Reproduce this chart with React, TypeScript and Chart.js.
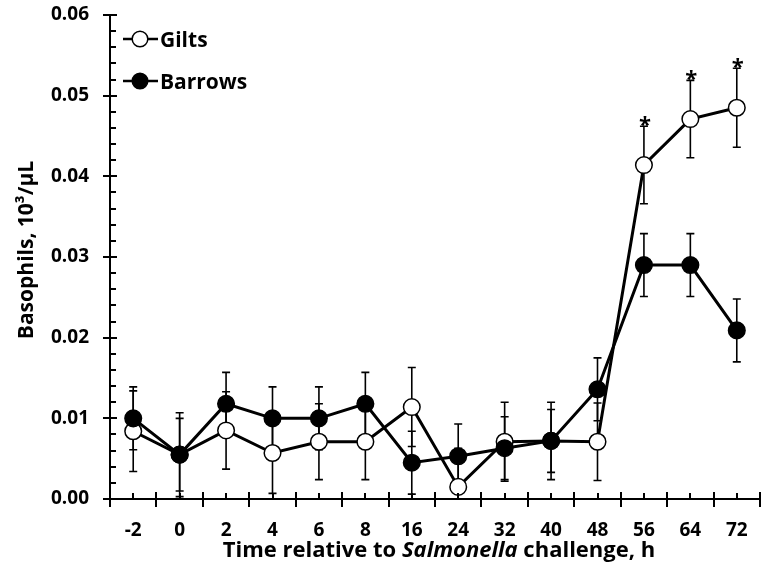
import React, { useEffect, useRef } from "react";
import { Chart, registerables } from "chart.js";
Chart.register(...registerables);

const categories = ["-2", "0", "2", "4", "6", "8", "16", "24", "32", "40", "48", "56", "64", "72"];
const giltsMean = [0.0084, 0.0055, 0.0085, 0.0057, 0.0071, 0.0071, 0.0114, 0.0015, 0.0071, 0.0072, 0.0071, 0.0414, 0.0471, 0.0485];
const giltsSE = [0.005, 0.0052, 0.0048, 0.005, 0.0047, 0.0047, 0.0049, 0.0048, 0.0049, 0.0048, 0.0048, 0.0048, 0.0048, 0.0049];
const barrowsMean = [0.01, 0.0055, 0.0118, 0.01, 0.01, 0.0118, 0.0045, 0.0053, 0.0063, 0.0072, 0.0136, 0.029, 0.029, 0.0209];
const barrowsSE = [0.0039, 0.0045, 0.0039, 0.0039, 0.0039, 0.0039, 0.0039, 0.004, 0.0039, 0.0039, 0.0039, 0.0039, 0.0039, 0.0039];
const significant = [false, false, false, false, false, false, false, false, false, false, false, true, true, true];
const yTicks = [0, 0.01, 0.02, 0.03, 0.04, 0.05, 0.06];

const FONT = "'Open Sans'";

const customPlugin = {
  id: "custom",
  beforeDatasetsDraw(chart: any) {
    const ctx = chart.ctx;
    const x = chart.scales.x;
    const y = chart.scales.y;
    ctx.save();
    ctx.strokeStyle = "#000";
    ctx.lineWidth = 1.6;
    const drawBars = (mean: number[], se: number[]) => {
      mean.forEach((m, i) => {
        const px = x.getPixelForValue(i);
        const top = y.getPixelForValue(m + se[i]);
        const bot = y.getPixelForValue(Math.max(0, m - se[i]));
        ctx.beginPath();
        ctx.moveTo(px, top);
        ctx.lineTo(px, bot);
        ctx.moveTo(px - 4, top);
        ctx.lineTo(px + 4, top);
        ctx.moveTo(px - 4, bot);
        ctx.lineTo(px + 4, bot);
        ctx.stroke();
      });
    };
    drawBars(giltsMean, giltsSE);
    drawBars(barrowsMean, barrowsSE);
    ctx.restore();
  },
  afterDraw(chart: any) {
    const ctx = chart.ctx;
    const x = chart.scales.x;
    const y = chart.scales.y;
    const area = chart.chartArea;
    ctx.save();
    ctx.strokeStyle = "#000";
    ctx.lineWidth = 2;
    // y ticks
    for (let k = 0; k <= 30; k++) {
      const v = k * 0.002;
      const py = Math.round(y.getPixelForValue(v));
      const major = k % 5 === 0;
      ctx.beginPath();
      if (major) {
        ctx.moveTo(area.left - 7, py);
        ctx.lineTo(area.left + 7, py);
      } else {
        ctx.moveTo(area.left, py);
        ctx.lineTo(area.left + 6, py);
      }
      ctx.stroke();
    }
    // x ticks
    for (let i = 0; i <= categories.length; i++) {
      const px = Math.round(x.getPixelForValue(i - 0.5));
      ctx.beginPath();
      ctx.moveTo(px, area.bottom - 7);
      ctx.lineTo(px, area.bottom + 8);
      ctx.stroke();
    }
    for (let i = 0; i < categories.length; i++) {
      const px = Math.round(x.getPixelForValue(i));
      ctx.beginPath();
      ctx.moveTo(px, area.bottom - 6);
      ctx.lineTo(px, area.bottom);
      ctx.stroke();
    }
    // asterisks
    ctx.fillStyle = "#000";
    ctx.font = `bold 22px ${FONT}`;
    ctx.textAlign = "center";
    ctx.textBaseline = "alphabetic";
    significant.forEach((s, i) => {
      if (!s) return;
      const px = x.getPixelForValue(i);
      const top = y.getPixelForValue(giltsMean[i] + giltsSE[i]);
      ctx.fillText("*", px + 1, top + 6);
    });
    // legend
    const legendRows = [
      { label: "Gilts", fill: "#fff", yy: 39 },
      { label: "Barrows", fill: "#000", yy: 81 },
    ];
    legendRows.forEach((r) => {
      ctx.lineWidth = 2.5;
      ctx.beginPath();
      ctx.moveTo(123, r.yy);
      ctx.lineTo(158, r.yy);
      ctx.stroke();
      ctx.beginPath();
      ctx.arc(140, r.yy, 7.8, 0, Math.PI * 2);
      ctx.fillStyle = r.fill;
      ctx.fill();
      ctx.lineWidth = 1.5;
      ctx.stroke();
      ctx.fillStyle = "#000";
      ctx.font = `bold 21px ${FONT}`;
      ctx.textAlign = "left";
      ctx.textBaseline = "alphabetic";
      ctx.fillText(r.label, 160, r.yy + 7.5);
    });
    // y title
    ctx.save();
    ctx.translate(33, 250);
    ctx.rotate(-Math.PI / 2);
    ctx.font = `bold 21px ${FONT}`;
    ctx.textAlign = "center";
    ctx.textBaseline = "alphabetic";
    ctx.fillText("Basophils, 10³/µL", 0, 0);
    ctx.restore();
    // x title with italic part
    const parts = [
      { t: "Time relative to ", f: `bold 22px ${FONT}` },
      { t: "Salmonella", f: `italic bold 22px ${FONT}` },
      { t: " challenge, h", f: `bold 22px ${FONT}` },
    ];
    let total = 0;
    parts.forEach((p) => {
      ctx.font = p.f;
      total += ctx.measureText(p.t).width;
    });
    let cx = 439 - total / 2;
    ctx.textAlign = "left";
    ctx.textBaseline = "alphabetic";
    parts.forEach((p) => {
      ctx.font = p.f;
      ctx.fillText(p.t, cx, 557);
      cx += ctx.measureText(p.t).width;
    });
    ctx.restore();
  },
};

export default function App() {
  const ref = useRef<HTMLCanvasElement>(null);
  useEffect(() => {
    document.body.style.margin = "0";
    const chart = new Chart(ref.current!, {
      type: "line",
      data: {
        labels: categories,
        datasets: [
          {
            label: "Barrows",
            data: barrowsMean,
            borderColor: "#000",
            borderWidth: 3,
            backgroundColor: "#000",
            pointBackgroundColor: "#000",
            pointBorderColor: "#000",
            pointBorderWidth: 1.5,
            pointRadius: 8.3,
            tension: 0,
            order: 0,
          },
          {
            label: "Gilts",
            data: giltsMean,
            borderColor: "#000",
            borderWidth: 3,
            backgroundColor: "#fff",
            pointBackgroundColor: "#fff",
            pointBorderColor: "#000",
            pointBorderWidth: 1.5,
            pointRadius: 8.3,
            tension: 0,
            order: 1,
          },
        ],
      },
      options: {
        animation: false,
        responsive: true,
        maintainAspectRatio: false,
        layout: { padding: { left: 0, right: 12, top: 15, bottom: 0 } },
        plugins: { legend: { display: false }, tooltip: { enabled: false } },
        scales: {
          x: {
            type: "category",
            offset: true,
            grid: { display: false, drawTicks: false },
            border: { display: true, color: "#000", width: 2 },
            ticks: { color: "#000", font: { family: "Open Sans", weight: "bold", size: 19 }, padding: 20, maxRotation: 0, autoSkip: false },
            afterFit: (s: any) => { s.height = 73; s.paddingLeft = 0; s.paddingRight = 0; },
          },
          y: {
            min: 0,
            max: 0.06,
            grid: { display: false, drawTicks: false },
            border: { display: true, color: "#000", width: 2 },
            afterBuildTicks: (s: any) => { s.ticks = yTicks.map((v) => ({ value: v })); },
            ticks: { color: "#000", font: { family: "Open Sans", weight: "bold", size: 19 }, padding: 21, callback: (v: any) => Number(v).toFixed(2) },
            afterFit: (s: any) => { s.width = 110; s.paddingTop = 0; s.paddingBottom = 0; },
          },
        },
      },
      plugins: [customPlugin],
    });
    return () => chart.destroy();
  }, []);
  return (
    <div style={{ width: 772, height: 572, position: "relative" }}>
      <canvas ref={ref} />
    </div>
  );
}
